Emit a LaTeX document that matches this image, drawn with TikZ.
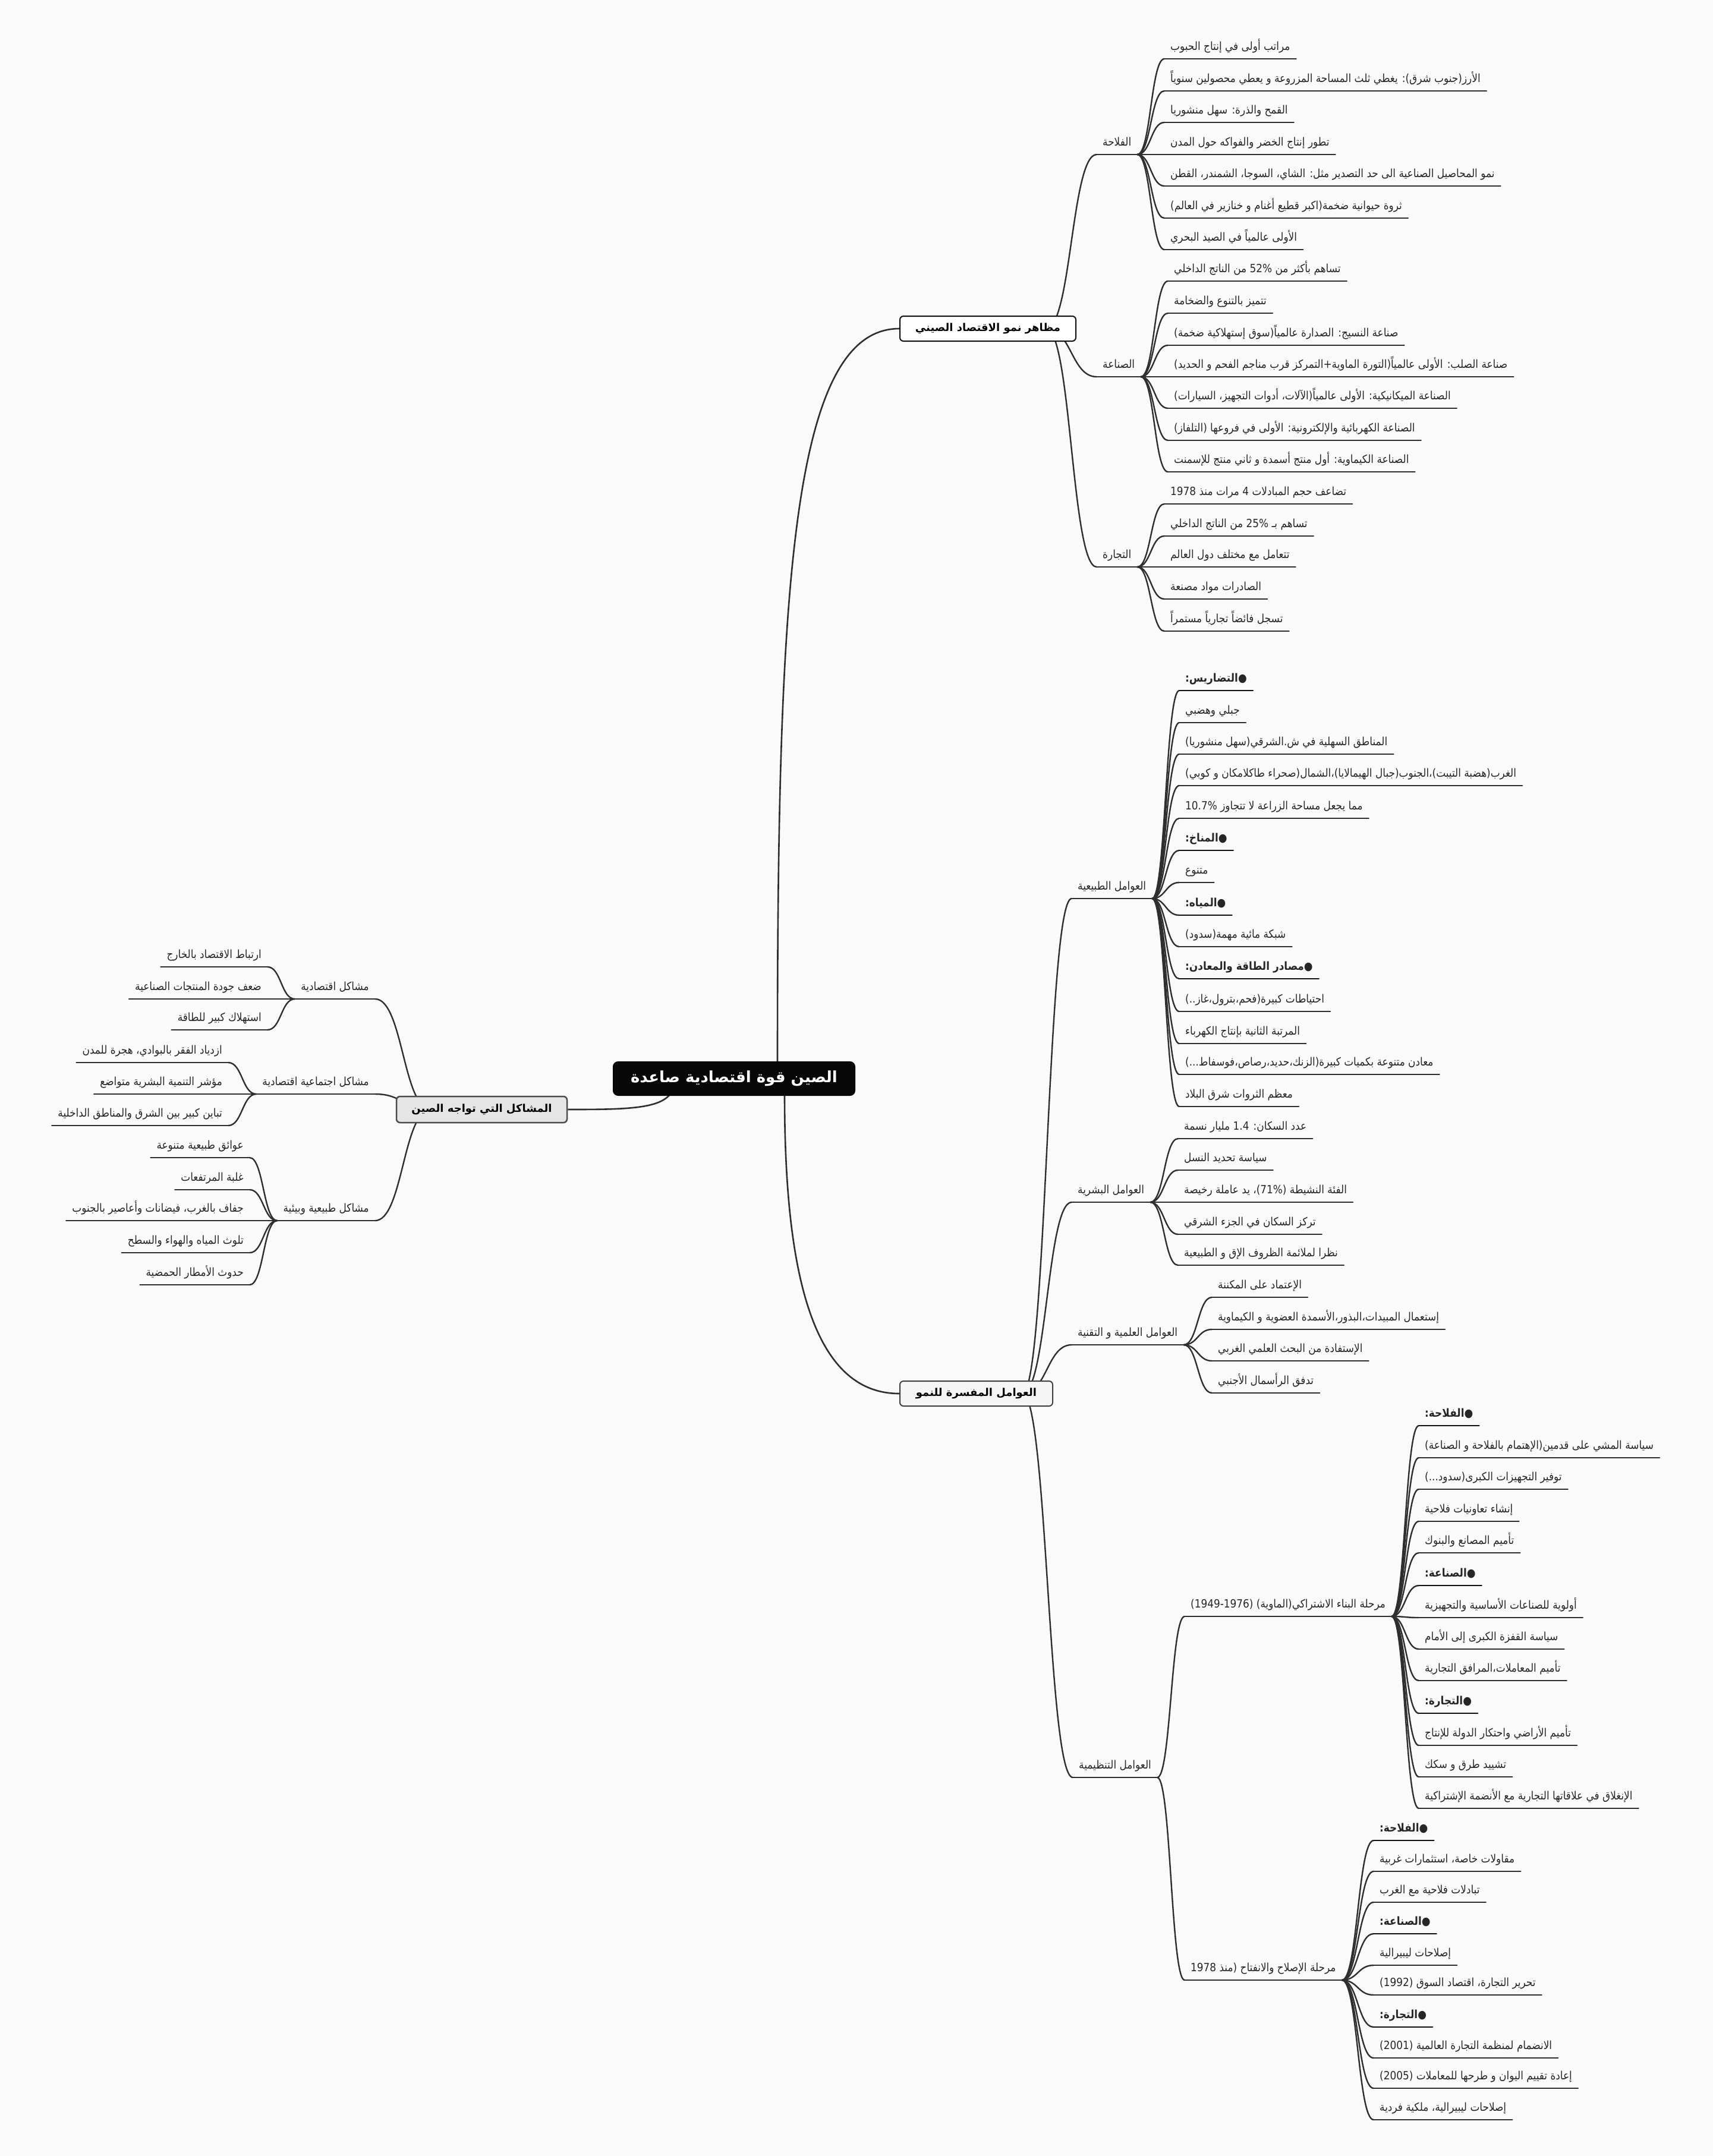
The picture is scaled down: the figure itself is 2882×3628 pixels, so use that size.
\documentclass[tikz,border=0pt]{standalone}
\usepackage{fontspec}
\setmainfont{DejaVu Sans}
\newfontfamily\ar[Script=Arabic,FakeStretch=0.89]{DejaVu Sans}
\newfontfamily\arb[Script=Arabic]{DejaVu Sans}
\TeXXeTstate=1
\usetikzlibrary{calc}
\definecolor{bgc}{HTML}{FAFAFA}
\definecolor{linec}{HTML}{2E2E2E}
\definecolor{hlinec}{HTML}{111111}
\definecolor{txtc}{HTML}{262626}
\pgfdeclarelayer{bg}\pgfdeclarelayer{edges}\pgfsetlayers{bg,edges,main}
\newcommand\AR[1]{\beginR #1\endR}
\newcommand\RL[4]{\node[lf,anchor=south west] (#1) at (#2,#3) {\AR{#4}}; \draw[ul] (#1.south west) -- (#1.south east);}
\newcommand\RB[4]{\node[lf,anchor=south west] (#1) at (#2,#3) {\AR{\bfseries #4}}; \draw[ul,draw=hlinec] (#1.south west) -- (#1.south east);}
\newcommand\LL[4]{\node[lf,anchor=south east] (#1) at (#2,#3) {\AR{#4}}; \draw[ul] (#1.south west) -- (#1.south east);}
\newcommand\lnk[2]{\draw[conn] let \p1=(#1), \p2=(#2) in (\p1) .. controls ({(\x1+\x2)/2},\y1) and ({(\x1+\x2)/2},\y2) .. (\p2);}
\begin{document}
\begin{tikzpicture}[x=1pt,y=-1pt,
  lf/.style={inner xsep=10pt,inner ysep=8pt,text height=16pt,text depth=6pt,font=\ar\fontsize{19}{22}\selectfont,text=txtc},
  ul/.style={draw=linec,line width=2.4pt,line cap=round},
  conn/.style={draw=linec,line width=2.4pt},
  bx/.style={rounded corners=6pt,line width=2pt,inner sep=0pt,font=\arb\bfseries\fontsize{18}{22}\selectfont,text=black}]
\begin{pgfonlayer}{bg}
\fill[bgc] (0,0) rectangle (2882,3628);
\end{pgfonlayer}
\useasboundingbox (0,0) rectangle (2882,3628);

% ---------- boxes ----------
\node[bx,fill=white,draw=hlinec,minimum width=296pt,minimum height=42pt] (B1) at (1662,553) {\AR{مظاهر نمو الاقتصاد الصيني}};
\node[bx,fill=black!4,draw=black!75,minimum width=257pt,minimum height=42pt] (B2) at (1642.5,2345) {\AR{العوامل المفسرة للنمو}};
\node[bx,fill=black!10,draw=black!70,line width=2.5pt,minimum width=287pt,minimum height=44pt] (LB) at (810.5,1867) {\AR{المشاكل التي تواجه الصين}};
\node[bx,rounded corners=8pt,fill=black!97,draw=black,minimum width=406pt,minimum height=56pt,text=white,font=\arb\bfseries\fontsize{26}{30}\selectfont] (R) at (1235,1815) {\AR{الصين قوة اقتصادية صاعدة}};
\coordinate (rT) at (1308,1787);
\coordinate (rB) at (1320,1843);
\coordinate (rL) at (1126,1843);
\coordinate (b1s) at (1760,553);
\coordinate (b2s) at (1720,2345);
\coordinate (lbs) at (725,1867);

% ---------- branch 1 ----------
\RL{F}{1845}{260}{الفلاحة}
\RL{F1}{1959}{99}{مراتب أولى في إنتاج الحبوب}
\RL{F2}{1959}{153}{الأرز(جنوب شرق): يغطي ثلث المساحة المزروعة و يعطي محصولين سنوياً}
\RL{F3}{1959}{206}{القمح والذرة: سهل منشوريا}
\RL{F4}{1959}{260}{تطور إنتاج الخضر والفواكه حول المدن}
\RL{F5}{1959}{313}{نمو المحاصيل الصناعية الى حد التصدير مثل: الشاي، السوجا، الشمندر، القطن}
\RL{F6}{1959}{367}{ثروة حيوانية ضخمة(اكبر قطيع أغنام و خنازير في العالم)}
\RL{F7}{1959}{420}{الأولى عالمياً في الصيد البحري}

\RL{I}{1845}{634}{الصناعة}
\RL{I1}{1965}{473}{تساهم بأكثر من 52\% من الناتج الداخلي}
\RL{I2}{1965}{527}{تتميز بالتنوع والضخامة}
\RL{I3}{1965}{581}{صناعة النسيج: الصدارة عالمياً(سوق إستهلاكية ضخمة)}
\RL{I4}{1965}{634}{صناعة الصلب: الأولى عالمياً(التورة الماوية+التمركز قرب مناجم الفحم و الحديد)}
\RL{I5}{1965}{687}{الصناعة الميكانيكية: الأولى عالمياً(الآلات، أدوات التجهيز، السيارات)}
\RL{I6}{1965}{741}{الصناعة الكهربائية والإلكترونية: الأولى في فروعها (التلفاز)}
\RL{I7}{1965}{794}{الصناعة الكيماوية: أول منتج أسمدة و ثاني منتج للإسمنت}

\RL{T}{1845}{954}{التجارة}
\RL{T1}{1959}{848}{تضاعف حجم المبادلات 4 مرات منذ 1978}
\RL{T2}{1959}{902}{تساهم بـ 25\% من الناتج الداخلي}
\RL{T3}{1959}{954}{تتعامل مع مختلف دول العالم}
\RL{T4}{1959}{1008}{الصادرات مواد مصنعة}
\RL{T5}{1959}{1062}{تسجل فائضاً تجارياً مستمراً}

% ---------- branch 2 ----------
\RL{N}{1803}{1512}{العوامل الطبيعية}
\RB{N1}{1984}{1162}{●التضاريس:}
\RL{N2}{1984}{1216}{جبلي وهضبي}
\RL{N3}{1984}{1269}{المناطق السهلية في ش.الشرقي(سهل منشوريا)}
\RL{N4}{1984}{1322}{الغرب(هضبة التيبت)،الجنوب(جبال الهيمالايا)،الشمال(صحراء طاكلامكان و كوبي)}
\RL{N5}{1984}{1377}{مما يجعل مساحة الزراعة لا تتجاوز 10.7\%}
\RB{N6}{1984}{1431}{●المناخ:}
\RL{N7}{1984}{1485}{متنوع}
\RB{N8}{1984}{1540}{●المياه:}
\RL{N9}{1984}{1593}{شبكة مائية مهمة(سدود)}
\RB{N10}{1984}{1647}{●مصادر الطاقة والمعادن:}
\RL{N11}{1984}{1702}{احتياطات كبيرة(فحم،بترول،غاز..)}
\RL{N12}{1984}{1756}{المرتبة الثانية بإنتاج الكهرباء}
\RL{N13}{1984}{1808}{معادن متنوعة بكميات كبيرة(الزنك،حديد،رصاص،فوسفاط...)}
\RL{N14}{1984}{1862}{معظم الثروات شرق البلاد}

\RL{H}{1803}{2023}{العوامل البشرية}
\RL{H1}{1982}{1916}{عدد السكان: 1.4 مليار نسمة}
\RL{H2}{1982}{1969}{سياسة تحديد النسل}
\RL{H3}{1982}{2023}{الفئة النشيطة \beginL(71\%)\endL، يد عاملة رخيصة}
\RL{H4}{1982}{2077}{تركز السكان في الجزء الشرقي}
\RL{H5}{1982}{2129}{نظرا لملائمة الظروف الإق و الطبيعية}

\RL{S}{1803}{2263}{العوامل العلمية و التقنية}
\RL{S1}{2039}{2183}{الإعتماد على المكننة}
\RL{S2}{2039}{2237}{إستعمال المبيدات،البذور،الأسمدة العضوية و الكيماوية}
\RL{S3}{2039}{2290}{الإستفادة من البحث العلمي الغربي}
\RL{S4}{2039}{2344}{تدفق الرأسمال الأجنبي}

\RL{O}{1805}{2991}{العوامل التنظيمية}
\RL{P1}{1993}{2720}{مرحلة البناء الاشتراكي(الماوية) \beginL(1949-1976)\endL}
\RB{P1a}{2387}{2399}{●الفلاحة:}
\RL{P1b}{2387}{2453}{سياسة المشي على قدمين(الإهتمام بالفلاحة و الصناعة)}
\RL{P1c}{2387}{2506}{توفير التجهيزات الكبرى(سدود...)}
\RL{P1d}{2387}{2560}{إنشاء تعاونيات فلاحية}
\RL{P1e}{2387}{2613}{تأميم المصانع والبنوك}
\RB{P1f}{2387}{2668}{●الصناعة:}
\RL{P1g}{2387}{2722}{أولوية للصناعات الأساسية والتجهيزية}
\RL{P1h}{2387}{2775}{سياسة القفزة الكبرى إلى الأمام}
\RL{P1i}{2387}{2828}{تأميم المعاملات،المرافق التجارية}
\RB{P1j}{2387}{2883}{●التجارة:}
\RL{P1k}{2387}{2937}{تأميم الأراضي واحتكار الدولة للإنتاج}
\RL{P1l}{2387}{2990}{تشييد طرق و سكك}
\RL{P1m}{2387}{3043}{الإنغلاق في علاقاتها التجارية مع الأنضمة الإشتراكية}

\RL{P2}{1993}{3332}{مرحلة الإصلاح والانفتاح (منذ 1978}
\RB{P2a}{2311}{3097}{●الفلاحة:}
\RL{P2b}{2311}{3149}{مقاولات خاصة، استثمارات غربية}
\RL{P2c}{2311}{3201}{تبادلات فلاحية مع الغرب}
\RB{P2d}{2311}{3254}{●الصناعة:}
\RL{P2e}{2311}{3307}{إصلاحات ليبيرالية}
\RL{P2f}{2311}{3357}{تحرير التجارة، اقتصاد السوق (1992)}
\RB{P2g}{2311}{3411}{●التجارة:}
\RL{P2h}{2311}{3463}{الانضمام لمنظمة التجارة العالمية (2001)}
\RL{P2i}{2311}{3514}{إعادة تقييم اليوان و طرحها للمعاملات (2005)}
\RL{P2j}{2311}{3567}{إصلاحات ليبيرالية، ملكية فردية}

% ---------- left branch ----------
\LL{E}{631}{1681}{مشاكل اقتصادية}
\LL{E1}{450}{1627}{ارتباط الاقتصاد بالخارج}
\LL{E2}{450}{1681}{ضعف جودة المنتجات الصناعية}
\LL{E3}{450}{1733}{استهلاك كبير للطاقة}
\LL{So}{631}{1841}{مشاكل اجتماعية اقتصادية}
\LL{So1}{384}{1788}{ازدياد الفقر بالبوادي، هجرة للمدن}
\LL{So2}{384}{1841}{مؤشر التنمية البشرية متواضع}
\LL{So3}{384}{1894}{تباين كبير بين الشرق والمناطق الداخلية}
\LL{Na}{631}{2054}{مشاكل طبيعية وبيئية}
\LL{Na1}{420}{1948}{عوائق طبيعية متنوعة}
\LL{Na2}{420}{2002}{غلبة المرتفعات}
\LL{Na3}{420}{2054}{جفاف بالغرب، فيضانات وأعاصير بالجنوب}
\LL{Na4}{420}{2108}{تلوث المياه والهواء والسطح}
\LL{Na5}{420}{2162}{حدوث الأمطار الحمضية}

% ---------- connectors ----------
\begin{pgfonlayer}{edges}
\draw[conn,line width=2.6pt] (rT) .. controls (1308,1000) and (1330,553) .. (B1.west);
\draw[conn,line width=2.6pt] (rB) .. controls (1320,2150) and (1370,2345) .. (B2.west);
\draw[conn,line width=2.6pt] (rL) .. controls (1105,1866) and (1050,1867) .. (LB.east);
\foreach \c in {F,I,T} {\lnk{b1s}{\c.south west}}
\foreach \c in {1,...,7} {\lnk{F.south east}{F\c.south west}}
\foreach \c in {1,...,7} {\lnk{I.south east}{I\c.south west}}
\foreach \c in {1,...,5} {\lnk{T.south east}{T\c.south west}}
\foreach \c in {N,H,S,O} {\lnk{b2s}{\c.south west}}
\foreach \c in {1,...,14} {\lnk{N.south east}{N\c.south west}}
\foreach \c in {1,...,5} {\lnk{H.south east}{H\c.south west}}
\foreach \c in {1,...,4} {\lnk{S.south east}{S\c.south west}}
\foreach \c in {1,2} {\lnk{O.south east}{P\c.south west}}
\foreach \c in {a,b,c,d,e,f,g,h,i,j,k,l,m} {\lnk{P1.south east}{P1\c.south west}}
\foreach \c in {a,b,c,d,e,f,g,h,i,j} {\lnk{P2.south east}{P2\c.south west}}
\foreach \c in {E,So,Na} {\lnk{lbs}{\c.south east}}
\foreach \c in {1,2,3} {\lnk{E.south west}{E\c.south east}}
\foreach \c in {1,2,3} {\lnk{So.south west}{So\c.south east}}
\foreach \c in {1,...,5} {\lnk{Na.south west}{Na\c.south east}}
\end{pgfonlayer}
\end{tikzpicture}
\end{document}
